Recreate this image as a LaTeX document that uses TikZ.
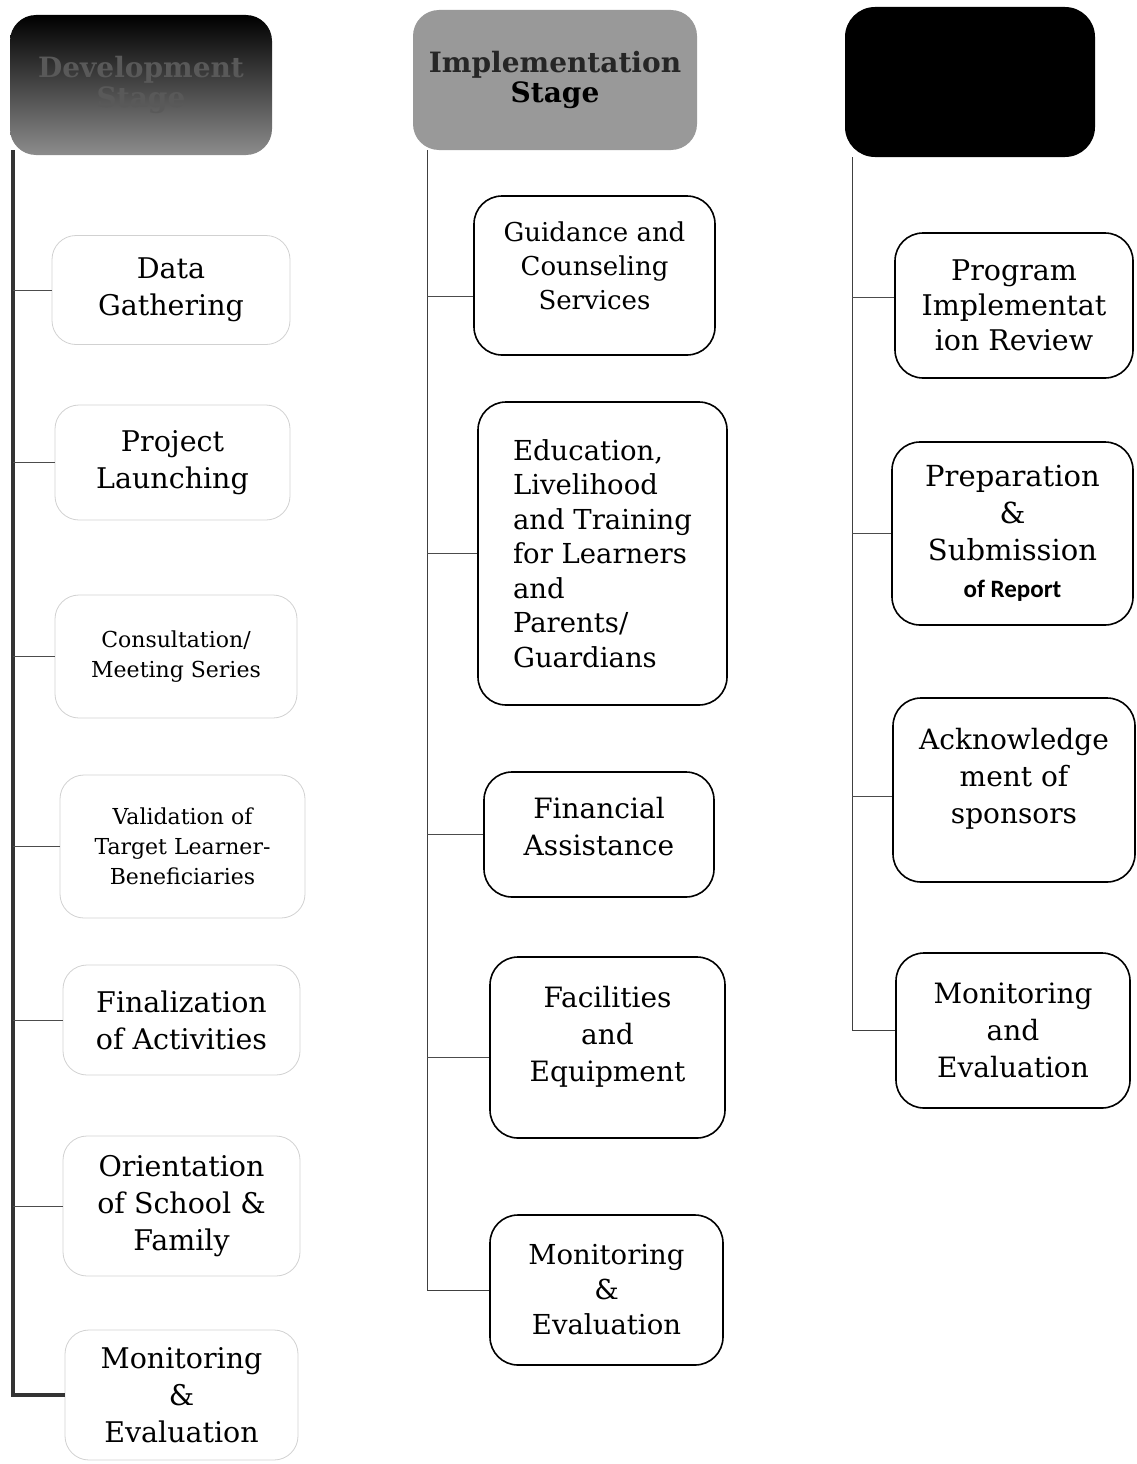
\documentclass[tikz,border=0pt]{standalone}
\usepackage{fontspec}
\setmainfont{DejaVu Serif}
\newfontfamily\reportfont{Carlito}
\usetikzlibrary{calc}
\tikzset{
  stagehead/.style={rectangle, rounded corners=26pt, inner sep=0pt,
    align=center, font=\fontsize{28}{30}\selectfont\bfseries},
  devbox/.style={rectangle, rounded corners=24pt, inner sep=0pt,
    draw=black!18, line width=0.8pt, align=center,
    font=\fontsize{28.5}{37}\selectfont},
  stepbox/.style={rectangle, rounded corners=28pt, inner sep=0pt,
    draw=black, line width=1.6pt, align=center,
    font=\fontsize{28}{37}\selectfont},
  smalltext/.style={font=\fontsize{22}{30}\selectfont},
  spine/.style={draw=black!75, line width=1pt},
  branch/.style={draw=black!70, line width=0.9pt},
}

\begin{document}
\begin{tikzpicture}[x=1pt, y=-1pt]
\useasboundingbox (0,0) rectangle (1136,1464);

% stage headers
\node (devhead) [stagehead, top color=black, middle color=black, bottom color=black!45,
  text=black!65, minimum width=262pt, minimum height=140pt] at (141,85)
  {Development\\Stage};
\node (imphead) [stagehead, fill=black!40, minimum width=284pt, minimum height=140pt]
  at (555,80) {\textcolor{black!85}{Implementation}\\Stage};
\node (posthead) [stagehead, fill=black, rounded corners=30pt,
  minimum width=250pt, minimum height=150pt] at (970,82) {};

% development stage
\node (dev1) [devbox, minimum width=238pt, minimum height=109pt] at (171,290)
  {Data\\Gathering};
\node (dev2) [devbox, minimum width=235pt, minimum height=115pt] at (172.5,462.5)
  {Project\\Launching};
\node (dev3) [devbox, smalltext, minimum width=242pt, minimum height=123pt] at (176,656.5)
  {Consultation/\\Meeting Series};
\node (dev4) [devbox, smalltext, minimum width=245pt, minimum height=143pt] at (182.5,846.5)
  {Validation of\\Target Learner-\\Beneficiaries};
\node (dev5) [devbox, minimum width=237pt, minimum height=110pt] at (181.5,1020)
  {Finalization\\of Activities};
\node (dev6) [devbox, minimum width=237pt, minimum height=140pt] at (181.5,1206)
  {Orientation\\of School \&\\Family};
\node (dev7) [devbox, minimum width=233pt, minimum height=130pt] at (181.5,1395)
  {Monitoring\\\&\\Evaluation};

% implementation stage
\node (imp1) [stepbox, font=\fontsize{26}{34}\selectfont,
  minimum width=241pt, minimum height=159pt] at (594.5,275.5)
  {Guidance and\\Counseling\\Services\\[-14pt]\mbox{}};
\node (imp2) [stepbox, align=left, font=\fontsize{27.5}{34.5}\selectfont,
  minimum width=249pt, minimum height=303pt] at (602.5,553.5)
  {Education,\\Livelihood\\and Training\\for Learners\\and\\Parents/\\Guardians};
\node (imp3) [stepbox, minimum width=230pt, minimum height=125pt] at (599,834.5)
  {Financial\\Assistance\\[-21pt]\mbox{}};
\node (imp4) [stepbox, minimum width=235pt, minimum height=181pt] at (607.5,1047.5)
  {Facilities\\and\\Equipment\\[-9pt]\mbox{}};
\node (imp5) [stepbox, font=\fontsize{27.5}{35}\selectfont,
  minimum width=233pt, minimum height=150pt] at (606.5,1290)
  {Monitoring\\\&\\Evaluation};

% post-implementation stage
\node (post1) [stepbox, font=\fontsize{28.5}{35}\selectfont,
  minimum width=238pt, minimum height=145pt] at (1014,305.5)
  {Program\\Implementat\\ion Review};
\node (post2) [stepbox, font=\fontsize{29}{37}\selectfont,
  minimum width=241pt, minimum height=183pt] at (1012.5,533.5)
  {Preparation\\\&\\Submission\\{\reportfont\bfseries\fontsize{25}{37}\selectfont of Report}};
\node (post3) [stepbox, minimum width=242pt, minimum height=184pt] at (1014,790)
  {Acknowledge\\ment of\\sponsors\\[-9pt]\mbox{}};
\node (post4) [stepbox, minimum width=234pt, minimum height=155pt] at (1013,1030.5)
  {Monitoring\\and\\Evaluation};

% spines and branches
\coordinate (devtop) at (13,150);
\coordinate (imptop) at (427,150);
\coordinate (posttop) at (852,157);

\draw[spine, line width=3.5pt, draw=black!80] (devtop) |- (dev7.west);
\foreach \i in {1,...,6}
  \draw[branch] (devtop |- dev\i.west) -- (dev\i.west);

\draw[spine] (imptop) |- (imp5.west);
\draw[branch] (imptop |- imp1.190.6) -- (imp1.190.6);
\draw[branch] (imptop |- imp2.west) -- (imp2.west);
\draw[branch] (imptop |- imp3.west) -- (imp3.west);
\draw[branch] (imptop |- imp4.185.1) -- (imp4.185.1);

\draw[spine] (posttop) |- (post4.west);
\draw[branch] (posttop |- post1.176.4) -- (post1.176.4);
\draw[branch] (posttop |- post2.west) -- (post2.west);
\draw[branch] (posttop |- post3.183.3) -- (post3.183.3);

\end{tikzpicture}
\end{document}
